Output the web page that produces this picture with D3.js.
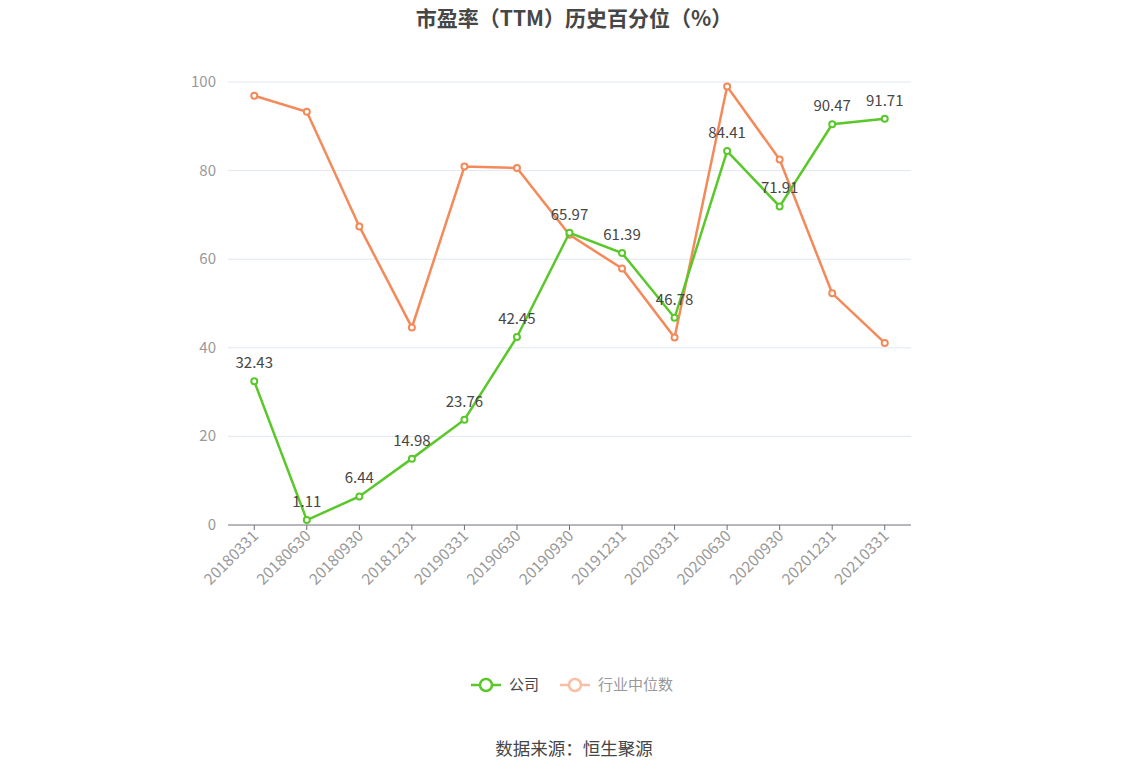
<!DOCTYPE html>
<html><head><meta charset="utf-8">
<script src="https://cdn.jsdelivr.net/npm/d3@7"></script>
<style>body{margin:0;background:#fff;font-family:"Noto Sans CJK SC","Noto Sans",sans-serif;}</style>
</head><body><svg id="c" width="1148" height="776"></svg>
<script>
const categories=["20180331","20180630","20180930","20181231","20190331","20190630","20190930","20191231","20200331","20200630","20200930","20201231","20210331"];
const company=[32.43,1.11,6.44,14.98,23.76,42.45,65.97,61.39,46.78,84.41,71.91,90.47,91.71];
const industry=[96.9,93.3,67.4,44.6,80.9,80.6,65.5,57.9,42.3,99.0,82.5,52.3,41.1];
const yTicks=[0,20,40,60,80,100];
const svg=d3.select("#c");
const x=d3.scaleBand().domain(categories).range([228,911]);
const y=d3.scaleLinear().domain([0,100]).range([525,82]);
const cx=d=>x(d)+x.bandwidth()/2;
svg.append("text").attr("x",574).attr("y",26).attr("text-anchor","middle").attr("font-size",21).attr("font-weight","bold").attr("fill","#464646").text("市盈率（TTM）历史百分位（%）");
yTicks.forEach(t=>{
 if(t>0) svg.append("line").attr("x1",228).attr("x2",911).attr("y1",y(t)).attr("y2",y(t)).attr("stroke","#e0e6f1");
 svg.append("text").attr("x",216).attr("y",y(t)+5).attr("text-anchor","end").attr("font-size",15).attr("fill","#999").text(t);
});
svg.append("line").attr("x1",228).attr("x2",911).attr("y1",525).attr("y2",525).attr("stroke","#6e7079");
categories.forEach(c=>{
 svg.append("line").attr("x1",cx(c)).attr("x2",cx(c)).attr("y1",525).attr("y2",530).attr("stroke","#6e7079");
 svg.append("text").attr("transform",`translate(${cx(c)+5},${537}) rotate(-45)`).attr("text-anchor","end").attr("font-size",15.5).attr("fill","#999").text(c);
});
function series(vals,color){
 const line=d3.line().x((d,i)=>cx(categories[i])).y(d=>y(d));
 svg.append("path").attr("d",line(vals)).attr("fill","none").attr("stroke",color).attr("stroke-width",2.5);
 vals.forEach((v,i)=>svg.append("circle").attr("cx",cx(categories[i])).attr("cy",y(v)).attr("r",3).attr("fill","#fff").attr("stroke",color).attr("stroke-width",2));
}
series(industry,"#f4895a");
series(company,"#5ac82a");
company.forEach((v,i)=>svg.append("text").attr("x",cx(categories[i])).attr("y",y(v)-13).attr("text-anchor","middle").attr("font-size",15).attr("fill","#464646").text(v.toFixed(2)));
svg.append("line").attr("x1",471).attr("x2",501).attr("y1",685).attr("y2",685).attr("stroke","#5ac82a").attr("stroke-width",2.5);
svg.append("circle").attr("cx",486).attr("cy",685).attr("r",6).attr("fill","#fff").attr("stroke","#5ac82a").attr("stroke-width",2.5);
svg.append("text").attr("x",509).attr("y",690).attr("font-size",15).attr("fill","#464646").text("公司");
svg.append("line").attr("x1",560).attr("x2",590).attr("y1",685).attr("y2",685).attr("stroke","#f9bea3").attr("stroke-width",2.5);
svg.append("circle").attr("cx",575).attr("cy",685).attr("r",6).attr("fill","#fff").attr("stroke","#f9bea3").attr("stroke-width",2.5);
svg.append("text").attr("x",598).attr("y",690).attr("font-size",15).attr("fill","#999").text("行业中位数");
svg.append("text").attr("x",574).attr("y",755).attr("text-anchor","middle").attr("font-size",17.5).attr("fill","#464646").text("数据来源：恒生聚源");
</script></body></html>
